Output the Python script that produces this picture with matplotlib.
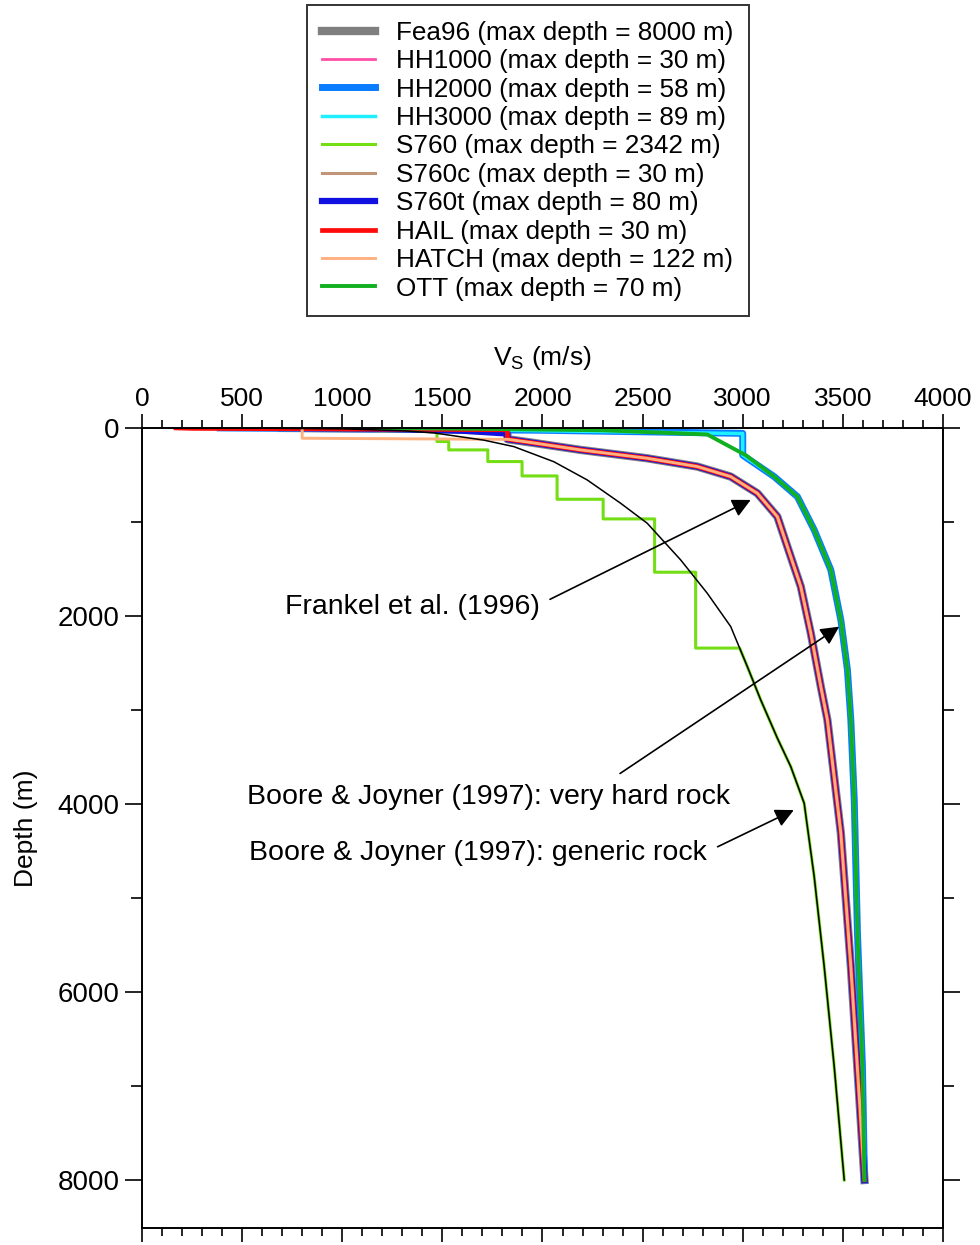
"""
Shear-wave velocity profiles vs depth (Fea96, BJ97 and site profiles).
"""

import numpy as np
import matplotlib
matplotlib.use("Agg")
import matplotlib.pyplot as plt
from matplotlib.ticker import MultipleLocator

plt.rcParams["font.family"] = ["Liberation Sans", "DejaVu Sans"]
plt.rcParams["mathtext.default"] = "regular"

# --- base profiles ---
# Frankel et al. (1996)
FEA96_V = [700, 1400, 1825, 1825, 1957, 2190, 2523, 2773, 2940, 3073, 3173,
           3223, 3290, 3340, 3390, 3423, 3490, 3540, 3583, 3608]
FEA96_D = [0, 10, 30, 120, 160, 234, 323, 411, 518, 695, 944,
           1263, 1688, 2184, 2752, 3107, 4309, 5731, 7150, 8000]

# Boore & Joyner (1997) very hard rock
VHR_V = [2823, 3015, 3157, 3273, 3357, 3440, 3490, 3523, 3540, 3557, 3573, 3598, 3608]
VHR_D = [70, 290, 518, 731, 1085, 1511, 2043, 2575, 3107, 3958, 5373, 6796, 8000]

# Boore & Joyner (1997) generic rock
GEN_V = [240, 600, 1000, 1300, 1457, 1707, 1857, 2057, 2223, 2390, 2523, 2690,
         2823, 2940, 3023, 3090, 3173, 3240, 3307, 3357, 3407, 3457, 3507]
GEN_D = [0, 3, 10, 30, 53, 130, 199, 360, 553, 801, 1014, 1404,
         1759, 2113, 2539, 2894, 3300, 3603, 3993, 4774, 5731, 6796, 8000]

# --- near-surface parts of the site profiles ---
HH1000_V = [300, 600, 1000, 1000, 1825]
HH1000_D = [0, 12, 12, 30, 30]
HH2000_V = [390, 1000, 2000, 3000, 3000]
HH2000_D = [0, 10, 25, 58, 290]
HH3000_V = [1000, 2000, 3000, 3000, 3000]
HH3000_D = [0, 30, 60, 89, 290]
S760_V = [300, 760, 1200, 1473, 1473, 1532, 1532, 1727, 1727, 1898, 1898, 2073,
          2073, 2303, 2303, 2560, 2560, 2765, 2765, 2985]
S760_D = [0, 10, 30, 30, 145, 145, 234, 234, 358, 358, 511, 511,
          759, 759, 968, 968, 1535, 1535, 2342, 2342]
S760C_V = [500, 900, 1200, 1825]
S760C_D = [0, 10, 30, 30]
S760T_V = [760, 1200, 1600, 1825, 1825]
S760T_D = [0, 10, 30, 60, 80]
HAIL_V = [170, 250, 1400, 1825, 1825]
HAIL_D = [0, 5, 15, 20, 30]
HATCH_V = [800, 800, 1830]
HATCH_D = [0, 110, 122]
OTT_V = [1100, 1700, 2300, 2823]
OTT_D = [0, 10, 25, 70]


def extend(v, d, base_v, base_d):
    # below the site's max depth the profile follows the base curve
    base_v = np.asarray(base_v)
    base_d = np.asarray(base_d)
    keep = base_d > d[-1]
    return np.r_[v, base_v[keep]], np.r_[d, base_d[keep]]


profiles = [
    ("Fea96 (max depth = 8000 m)", (FEA96_V, FEA96_D), "#7f7f7f", 6.0),
    ("HH1000 (max depth = 30 m)", extend(HH1000_V, HH1000_D, FEA96_V, FEA96_D), "#ff4fa7", 2.0),
    ("HH2000 (max depth = 58 m)", extend(HH2000_V, HH2000_D, VHR_V, VHR_D), "#0a7cff", 5.0),
    ("HH3000 (max depth = 89 m)", extend(HH3000_V, HH3000_D, VHR_V, VHR_D), "#1ef0ff", 2.5),
    ("S760 (max depth = 2342 m)", extend(S760_V, S760_D, GEN_V, GEN_D), "#74de14", 2.2),
    ("S760c (max depth = 30 m)", extend(S760C_V, S760C_D, FEA96_V, FEA96_D), "#c0957a", 2.2),
    ("S760t (max depth = 80 m)", extend(S760T_V, S760T_D, FEA96_V, FEA96_D), "#1010e0", 4.5),
    ("HAIL (max depth = 30 m)", extend(HAIL_V, HAIL_D, FEA96_V, FEA96_D), "#ff0a0a", 3.4),
    ("HATCH (max depth = 122 m)", extend(HATCH_V, HATCH_D, FEA96_V, FEA96_D), "#ffb07f", 2.1),
    ("OTT (max depth = 70 m)", extend(OTT_V, OTT_D, VHR_V, VHR_D), "#10b020", 2.8),
]

fig = plt.figure(figsize=(9.8, 12.45), dpi=100)
ax = fig.add_axes([0.1449, 0.0137, 0.8173, 0.6426])

for label, (v, d), color, lw in profiles:
    ax.plot(v, d, color=color, lw=lw, label=label, solid_joinstyle="round")

# generic rock curve itself, thin black, no legend entry
ax.plot(GEN_V, GEN_D, color="black", lw=1.1)

ax.set_xlim(0, 4000)
ax.set_ylim(8510, 0)

ax.xaxis.set_major_locator(MultipleLocator(500))
ax.xaxis.set_minor_locator(MultipleLocator(100))
ax.yaxis.set_major_locator(MultipleLocator(2000))
ax.yaxis.set_minor_locator(MultipleLocator(1000))
ax.tick_params(which="both", direction="out", top=True, bottom=True, left=True,
               right=True, labeltop=True, labelbottom=False, width=1.2,
               labelsize=19, colors="black")
ax.tick_params(axis="x", which="major", length=10, pad=2)
ax.tick_params(axis="x", which="minor", length=6)
ax.tick_params(axis="y", which="major", length=12, pad=4)
ax.tick_params(axis="y", which="minor", length=8)
ax.tick_params(axis="y", labelsize=20)
for sp in ax.spines.values():
    sp.set_linewidth(1.4)

ax.xaxis.set_label_position("top")
ax.set_xlabel("V$_{S}$ (m/s)", fontsize=19, labelpad=16)
ax.set_ylabel("Depth (m)", fontsize=19, labelpad=14)

arrow = dict(arrowstyle="-|>", color="black", lw=1.2, mutation_scale=28)
ax.annotate("Frankel et al. (1996)", xy=(3040, 766), xytext=(1350, 1905),
            fontsize=20.5, ha="center", va="center",
            arrowprops=dict(arrow, relpos=(1.0, 0.6), shrinkA=6, shrinkB=0))
ax.annotate("Boore & Joyner (1997): very hard rock", xy=(3482, 2114),
            xytext=(1730, 3926), fontsize=20.5, ha="center", va="center",
            arrowprops=dict(arrow, relpos=(0.74, 1.0), shrinkA=10, shrinkB=0))
ax.annotate("Boore & Joyner (1997): generic rock", xy=(3255, 4065),
            xytext=(1680, 4522), fontsize=20.5, ha="center", va="center",
            arrowprops=dict(arrow, relpos=(1.0, 0.55), shrinkA=6, shrinkB=0))

leg = fig.legend(loc="upper left", bbox_to_anchor=(0.313, 0.996), fontsize=18.8,
                 frameon=True, fancybox=False, edgecolor="black",
                 handlelength=2.0, handletextpad=0.8, labelspacing=0.17,
                 borderpad=0.6, borderaxespad=0)
leg.get_frame().set_linewidth(1.4)

fig.savefig("out.png", dpi=100)
